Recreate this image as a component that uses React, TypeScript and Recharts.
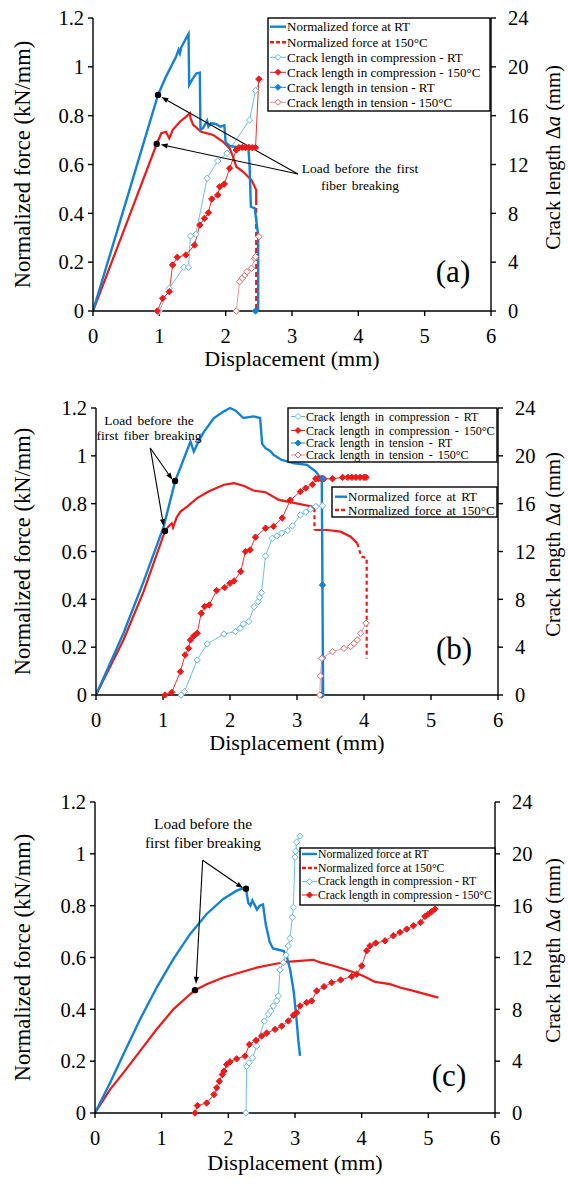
import React from "react";
import { ComposedChart, Line, XAxis, YAxis, ReferenceLine, ReferenceDot, Label } from "recharts";

type Pt = [number, number];

const xTicks = [0, 1, 2, 3, 4, 5, 6];
const forceTicks = [0, 0.2, 0.4, 0.6, 0.8, 1, 1.2];
const crackTicks = [0, 4, 8, 12, 16, 20, 24];

// ---- panel (a) ----
const aForceRT: Pt[] = [
  [0, 0], [0.5, 0.45], [0.98, 0.885], [1.1, 0.96], [1.25, 1.04], [1.29, 1.07], [1.31, 1.055], [1.33, 1.08],
  [1.44, 1.135], [1.45, 0.926], [1.5, 0.95], [1.56, 0.973], [1.61, 0.976], [1.62, 0.741], [1.66, 0.75],
  [1.72, 0.78], [1.74, 0.755], [1.78, 0.77], [1.86, 0.765], [1.92, 0.755], [1.98, 0.76], [2.0, 0.69],
  [2.06, 0.676], [2.16, 0.672], [2.34, 0.676], [2.36, 0.6], [2.38, 0.427], [2.44, 0.42], [2.46, 0.373],
  [2.49, 0.311], [2.52, 0.305], [2.49, 0.3], [2.49, 0],
];
const aForce150: Pt[] = [
  [0, 0], [0.5, 0.355], [0.96, 0.684], [1.03, 0.728], [1.1, 0.734], [1.15, 0.707], [1.2, 0.741],
  [1.31, 0.775], [1.4, 0.795], [1.46, 0.81], [1.47, 0.79], [1.51, 0.762], [1.63, 0.734], [1.81, 0.721],
  [1.96, 0.693], [2.06, 0.666], [2.11, 0.632], [2.16, 0.591], [2.26, 0.571], [2.39, 0.536], [2.46, 0.496],
  [2.46, 0.455],
];
const aForce150Tail: Pt[] = [[2.46, 0.455], [2.46, 0]];
const aCompRT: Pt[] = [
  [1.0, 0], [1.15, 1.86], [1.37, 3.58], [1.44, 3.58], [1.47, 6.14], [1.55, 6.28], [1.72, 10.87],
  [1.88, 12.29], [2.02, 12.92], [2.36, 15.64], [2.45, 18.05], [2.52, 18.92],
];
const aComp150: Pt[] = [
  [0.97, 0], [1.05, 1.04], [1.15, 1.58], [1.2, 3.77], [1.27, 4.4], [1.4, 4.59], [1.53, 5.4], [1.61, 7.04],
  [1.68, 7.59], [1.74, 8.05], [1.79, 9.17], [1.88, 9.5], [1.91, 10.18], [1.98, 10.4], [2.06, 11.69],
  [2.16, 13.19], [2.2, 13.38], [2.25, 13.4], [2.3, 13.38], [2.35, 13.4], [2.4, 13.38], [2.45, 13.38], [2.5, 19.0],
];
const aTensRT: Pt[] = [[2.45, 0]];
const aTens150: Pt[] = [
  [2.16, 0], [2.21, 2.4], [2.25, 2.68], [2.29, 2.95], [2.32, 3.22], [2.39, 3.5], [2.44, 4.31], [2.45, 4.45], [2.5, 6.09],
];
const aMarks: Pt[] = [[0.98, 0.885], [0.96, 0.684]];
const aArrows: Pt[][] = [[[3.09, 0.561], [1.03, 0.876]], [[3.09, 0.561], [1.02, 0.682]]];

// ---- panel (b) ----
const bForceRT: Pt[] = [
  [0, 0], [0.41, 0.258], [0.71, 0.474], [1.01, 0.704], [1.18, 0.893], [1.3, 0.98], [1.41, 1.06], [1.46, 1.018],
  [1.53, 1.06], [1.61, 1.1], [1.76, 1.158], [1.91, 1.186], [2.0, 1.2], [2.08, 1.19], [2.2, 1.158], [2.35, 1.165],
  [2.45, 1.158], [2.48, 1.05], [2.53, 1.032], [2.6, 1.02], [2.65, 1.004], [2.77, 0.983], [2.96, 0.969],
  [3.15, 0.962], [3.28, 0.934], [3.35, 0.907], [3.37, 0.9], [3.38, 0.45], [3.39, 0],
];
const bForce150: Pt[] = [
  [0, 0], [0.41, 0.23], [0.71, 0.432], [1.03, 0.686], [1.08, 0.704], [1.13, 0.718], [1.15, 0.7], [1.2, 0.74],
  [1.26, 0.767], [1.36, 0.788], [1.51, 0.823], [1.68, 0.851], [1.91, 0.879], [2.06, 0.886], [2.21, 0.874],
  [2.35, 0.855], [2.53, 0.848], [2.73, 0.816], [2.97, 0.802], [3.22, 0.788], [3.26, 0.781],
];
const bForce150Drop: Pt[] = [[3.26, 0.781], [3.26, 0.69]];
const bForce150Mid: Pt[] = [[3.26, 0.69], [3.45, 0.69], [3.65, 0.683], [3.8, 0.662], [3.9, 0.634]];
const bForce150Tail: Pt[] = [[3.9, 0.634], [3.96, 0.579], [4.04, 0.572], [4.04, 0.153]];
const bCompRT: Pt[] = [
  [1.27, 0], [1.32, 0.28], [1.51, 2.93], [1.66, 4.27], [1.91, 5.1], [2.08, 5.3], [2.15, 5.58], [2.2, 5.94],
  [2.28, 6.14], [2.36, 7.39], [2.42, 7.81], [2.44, 8.17], [2.47, 8.56], [2.53, 11.63], [2.63, 13.1],
  [2.7, 13.3], [2.77, 13.53], [2.86, 13.75], [2.93, 14.14], [3.05, 15.06], [3.13, 15.3], [3.2, 15.54],
  [3.28, 15.76], [3.38, 15.82],
];
const bComp150: Pt[] = [
  [1.03, 0], [1.13, 0.22], [1.26, 1.95], [1.33, 3.35], [1.38, 3.9], [1.41, 4.6], [1.46, 4.94], [1.51, 5.16],
  [1.57, 6.83], [1.62, 7.39], [1.69, 7.53], [1.8, 8.73], [1.92, 8.98], [2.0, 9.34], [2.06, 9.54], [2.16, 10.32],
  [2.23, 11.99], [2.3, 12.13], [2.38, 13.2], [2.53, 13.95], [2.65, 14.1], [2.78, 14.8], [2.9, 16.3], [3.05, 17.0],
  [3.13, 17.3], [3.23, 17.6], [3.28, 18.08], [3.32, 18.08], [3.36, 18.1], [3.4, 18.08], [3.53, 18.08],
  [3.68, 18.2], [3.76, 18.2], [3.82, 18.2], [3.88, 18.2], [3.94, 18.2], [4.0, 18.2], [4.03, 18.2],
];
const bTensRT: Pt[] = [[3.37, 0], [3.38, 3.1], [3.38, 9.2], [3.38, 18.1]];
const bTens150: Pt[] = [
  [3.34, 0], [3.35, 1.59], [3.37, 3.07], [3.53, 3.63], [3.7, 3.9], [3.8, 4.05], [3.85, 4.32], [3.9, 4.6],
  [3.95, 5.16], [4.03, 6.0],
];
const bMarks: Pt[] = [[1.18, 0.895], [1.03, 0.686]];
const bArrows: Pt[][] = [[[0.81, 1.033], [1.14, 0.9]], [[0.81, 1.033], [1.01, 0.706]]];

// ---- panel (c) ----
const cForceRT: Pt[] = [
  [0, 0], [0.225, 0.116], [0.425, 0.226], [0.675, 0.361], [0.925, 0.484], [1.175, 0.594], [1.425, 0.69],
  [1.675, 0.768], [1.925, 0.826], [2.125, 0.858], [2.2, 0.865], [2.265, 0.865], [2.28, 0.84], [2.3, 0.81],
  [2.33, 0.8], [2.36, 0.82], [2.4, 0.8], [2.43, 0.785], [2.47, 0.8], [2.52, 0.805], [2.56, 0.73], [2.62, 0.66],
  [2.67, 0.635], [2.75, 0.63], [2.83, 0.625], [2.88, 0.6], [2.93, 0.55], [2.98, 0.47], [3.02, 0.37],
  [3.05, 0.28], [3.075, 0.22],
];
const cForce150: Pt[] = [
  [0, 0], [0.225, 0.09], [0.425, 0.155], [0.675, 0.239], [0.925, 0.323], [1.175, 0.4], [1.425, 0.458],
  [1.5, 0.474], [1.675, 0.497], [1.925, 0.523], [2.175, 0.542], [2.425, 0.561], [2.675, 0.574], [2.875, 0.583],
  [3.075, 0.587], [3.275, 0.591], [3.375, 0.581], [3.575, 0.568], [3.825, 0.548], [4.025, 0.529], [4.2, 0.506],
  [4.425, 0.497], [4.575, 0.484], [4.775, 0.471], [5.15, 0.445],
];
const cCompRT: Pt[] = [
  [2.265, 0], [2.275, 3.61], [2.31, 3.87], [2.365, 4.26], [2.425, 5.16], [2.54, 7.1], [2.6, 7.61], [2.635, 7.87],
  [2.675, 8.26], [2.725, 8.65], [2.75, 9.03], [2.775, 11.05], [2.825, 11.61], [2.865, 12.18], [2.9, 12.9],
  [2.925, 13.47], [2.96, 15.1], [2.975, 15.87], [3.0, 19.74], [3.01, 20.2], [3.025, 20.9], [3.075, 21.37],
];
const cComp150: Pt[] = [
  [1.5, 0], [1.535, 0.57], [1.675, 0.77], [1.785, 1.42], [1.825, 1.94], [1.865, 2.45], [1.91, 2.97],
  [1.935, 3.23], [1.975, 3.74], [2.025, 3.95], [2.125, 4.18], [2.25, 4.39], [2.315, 5.29], [2.415, 5.6],
  [2.5, 5.94], [2.575, 6.17], [2.7, 6.45], [2.8, 6.71], [2.9, 7.1], [2.975, 7.54], [3.025, 7.74], [3.075, 8.26],
  [3.175, 8.52], [3.25, 8.65], [3.325, 9.42], [3.435, 9.75], [3.55, 10.06], [3.685, 10.27], [3.85, 10.53],
  [3.925, 10.71], [4.0, 11.35], [4.075, 12.52], [4.125, 12.9], [4.21, 13.11], [4.35, 13.29], [4.475, 13.68],
  [4.575, 13.94], [4.675, 14.19], [4.775, 14.45], [4.885, 14.71], [4.95, 15.17], [5.0, 15.35], [5.05, 15.54],
  [5.1, 15.74],
];
const cMarks: Pt[] = [[2.265, 0.865], [1.5, 0.474]];
const cArrows: Pt[][] = [[[1.615, 0.975], [2.22, 0.868]], [[1.615, 0.975], [1.515, 0.498]]];

const labelRT = "Normalized force at RT";
const label150 = "Normalized force at 150°C";
const labelCompRT = "Crack length in compression - RT";
const labelComp150 = "Crack length in compression - 150°C";
const labelTensRT = "Crack length in tension - RT";
const labelTens150 = "Crack length in tension - 150°C";

const BLUE = "#1482d4";
const RED = "#ee1a1a";
const CYAN = "#5fb6e8";
const PINK = "#f29090";
const PINK_MK = "#ec6464";
const SERIF = "'Liberation Serif', 'Times New Roman', serif";

const axisPen = { stroke: "#000", strokeWidth: 1.4 };
const tickFont = { fill: "#000", fontSize: 20.5, fontFamily: SERIF };
const X_AXIS_H = 70;

const toXY = (pts: Pt[]) => pts.map(([x, y]) => ({ x, y }));
const fmt = (v: number) => String(Math.round(v * 10) / 10);

function diamond(fill: string, stroke: string, s = 3.2) {
  return (p: any) => {
    const { cx, cy, index } = p;
    if (cx == null || cy == null || Number.isNaN(cx) || Number.isNaN(cy)) return <g key={`e${index}`} />;
    return (
      <path
        key={`d${index}`}
        d={`M${cx},${cy - s}L${cx + s},${cy}L${cx},${cy + s}L${cx - s},${cy}Z`}
        fill={fill}
        stroke={stroke}
        strokeWidth={1}
      />
    );
  };
}

const arrowShape = (p: any) => {
  const { x1, y1, x2, y2 } = p;
  const ang = Math.atan2(y2 - y1, x2 - x1);
  const L = 7;
  const W = 2.6;
  const bx = x2 - L * Math.cos(ang);
  const by = y2 - L * Math.sin(ang);
  const px = -Math.sin(ang) * W;
  const py = Math.cos(ang) * W;
  return (
    <g>
      <line x1={x1} y1={y1} x2={bx} y2={by} stroke="#000" strokeWidth={1.1} />
      <path d={`M${x2},${y2}L${bx + px},${by + py}L${bx - px},${by - py}Z`} fill="#000" />
    </g>
  );
};

const leftTitle = (p: any) => {
  const vb = p.viewBox || {};
  const cx = 22;
  const cy = vb.y + vb.height / 2;
  return (
    <text x={cx} y={cy} transform={`rotate(-90 ${cx} ${cy})`} textAnchor="middle" dominantBaseline="central"
      fontFamily={SERIF} fontSize={22.5} fill="#000">
      Normalized force (kN/mm)
    </text>
  );
};

const rightTitle = (p: any) => {
  const vb = p.viewBox || {};
  const cx = 553;
  const cy = vb.y + vb.height / 2 - 7;
  return (
    <text x={cx} y={cy} transform={`rotate(-90 ${cx} ${cy})`} textAnchor="middle" dominantBaseline="central"
      fontFamily={SERIF} fontSize={20.5} fill="#000">
      Crack length Δ<tspan fontStyle="italic">a</tspan> (mm)
    </text>
  );
};

const xTitle = (dy: number) => (p: any) => {
  const vb = p.viewBox || {};
  return (
    <text x={vb.x + vb.width / 2} y={vb.y + dy} textAnchor="middle" fontFamily={SERIF} fontSize={22} fill="#000">
      Displacement (mm)
    </text>
  );
};

type Series = { pts: Pt[]; axis: "left" | "right"; stroke: string; width: number; dash?: string; dot?: any };

const forceRT = (pts: Pt[]): Series => ({ pts, axis: "left", stroke: BLUE, width: 2.4 });
const force150 = (pts: Pt[], dash?: string): Series => ({ pts, axis: "left", stroke: RED, width: 2.2, dash });
const compRT = (pts: Pt[]): Series => ({ pts, axis: "right", stroke: CYAN, width: 0.9, dot: diamond("#fff", CYAN) });
const comp150 = (pts: Pt[]): Series => ({ pts, axis: "right", stroke: RED, width: 0.9, dot: diamond(RED, RED) });
const tensRT = (pts: Pt[]): Series => ({ pts, axis: "right", stroke: BLUE, width: 1, dot: diamond(BLUE, BLUE) });
const tens150 = (pts: Pt[]): Series => ({ pts, axis: "right", stroke: PINK, width: 0.9, dot: diamond("#fff", PINK_MK) });

function Panel(props: {
  top: number;
  height: number;
  margin: { top: number; right: number; bottom: number; left: number };
  series: Series[];
  arrows: Pt[][];
  marks: Pt[];
  topTicks?: boolean;
  titleDy: number;
}) {
  const { top, height, margin, series, arrows, marks, topTicks, titleDy } = props;
  return (
    <div style={{ position: "absolute", left: 0, top }}>
      <ComposedChart width={568} height={height} margin={margin}>
        <XAxis xAxisId="top" orientation="top" type="number" domain={[0, 6]} ticks={xTicks} height={0}
          tick={false} tickSize={5} tickLine={topTicks ? axisPen : false} axisLine={axisPen} />
        <XAxis type="number" dataKey="x" domain={[0, 6]} ticks={xTicks} interval={0} height={X_AXIS_H}
          tickSize={5} tickMargin={12} tickLine={axisPen} axisLine={axisPen} tick={tickFont} allowDataOverflow>
          <Label content={xTitle(titleDy)} />
        </XAxis>
        <YAxis yAxisId="left" type="number" domain={[0, 1.2]} ticks={forceTicks} interval={0} width={80}
          tickSize={5} tickMargin={4} tickLine={axisPen} axisLine={axisPen} tick={tickFont} tickFormatter={fmt}>
          <Label content={leftTitle} />
        </YAxis>
        <YAxis yAxisId="right" orientation="right" type="number" domain={[0, 24]} ticks={crackTicks} interval={0}
          width={70} tickSize={5} tickMargin={12} tickLine={axisPen} axisLine={axisPen} tick={tickFont}>
          <Label content={rightTitle} />
        </YAxis>
        {series.map((s, i) => (
          <Line
            key={`s${i}`}
            data={toXY(s.pts)}
            dataKey="y"
            yAxisId={s.axis}
            type="linear"
            stroke={s.stroke}
            strokeWidth={s.width}
            strokeDasharray={s.dash}
            dot={s.dot ?? false}
            activeDot={false}
            legendType="none"
            isAnimationActive={false}
          />
        ))}
        {arrows.map((a, i) => (
          <ReferenceLine key={`a${i}`} yAxisId="left" ifOverflow="visible"
            segment={[{ x: a[0][0], y: a[0][1] }, { x: a[1][0], y: a[1][1] }]} shape={arrowShape} />
        ))}
        {marks.map((m, i) => (
          <ReferenceDot key={`m${i}`} yAxisId="left" x={m[0]} y={m[1]} r={3.2} fill="#000" stroke="none" />
        ))}
      </ComposedChart>
    </div>
  );
}

type LegendItem = { label: string; kind: "rt" | "150" | "compRT" | "comp150" | "tensRT" | "tens150" };

function LegendBox(props: {
  x: number; y: number; w: number; h: number; rows: number[]; sx: number; sw: number;
  fontSize: number; wordSpacing?: number; items: LegendItem[];
}) {
  const { x, y, w, h, rows, sx, sw, fontSize, wordSpacing, items } = props;
  return (
    <g>
      <rect x={x} y={y} width={w} height={h} fill="#fff" stroke="#000" strokeWidth={1.4} />
      {items.map((it, i) => {
        const cy = rows[i];
        const mid = sx + sw / 2;
        let sample: React.ReactNode = null;
        if (it.kind === "rt") sample = <line x1={sx} x2={sx + sw} y1={cy} y2={cy} stroke={BLUE} strokeWidth={2.4} />;
        else if (it.kind === "150")
          sample = <line x1={sx} x2={sx + sw} y1={cy} y2={cy} stroke={RED} strokeWidth={2.4} strokeDasharray="4 2" />;
        else {
          const c = it.kind === "compRT" ? CYAN : it.kind === "comp150" ? RED : it.kind === "tensRT" ? BLUE : PINK;
          const open = it.kind === "compRT" || it.kind === "tens150";
          const mk = it.kind === "tens150" ? PINK_MK : c;
          const s = 3;
          sample = (
            <g>
              <line x1={sx} x2={sx + sw} y1={cy} y2={cy} stroke={c} strokeWidth={1} />
              <path d={`M${mid},${cy - s}L${mid + s},${cy}L${mid},${cy + s}L${mid - s},${cy}Z`}
                fill={open ? "#fff" : mk} stroke={mk} strokeWidth={1} />
            </g>
          );
        }
        return (
          <g key={i}>
            {sample}
            <text x={sx + sw + 1} y={cy} dominantBaseline="central" fontFamily={SERIF} fontSize={fontSize}
              style={{ wordSpacing }} fill="#000">
              {it.label}
            </text>
          </g>
        );
      })}
    </g>
  );
}

function Note(props: { cx: number; ys: number[]; lines: string[]; fontSize: number; wordSpacing?: number }) {
  return (
    <g>
      {props.lines.map((t, i) => (
        <text key={i} x={props.cx} y={props.ys[i]} textAnchor="middle" dominantBaseline="central"
          fontFamily={SERIF} fontSize={props.fontSize} style={{ wordSpacing: props.wordSpacing }} fill="#000">
          {t}
        </text>
      ))}
    </g>
  );
}

export default function App() {
  return (
    <div style={{ position: "absolute", left: 0, top: 0, width: 568, height: 1184, background: "#fff" }}>
      <Panel
        top={0}
        height={311 + X_AXIS_H}
        margin={{ top: 18, right: 7, bottom: 0, left: 13 }}
        titleDy={55}
        series={[
          compRT(aCompRT), comp150(aComp150), tensRT(aTensRT), tens150(aTens150),
          force150(aForce150), force150(aForce150Tail, "5 3"), forceRT(aForceRT),
        ]}
        arrows={aArrows}
        marks={aMarks}
      />
      <Panel
        top={390}
        height={305 + X_AXIS_H}
        margin={{ top: 18, right: 0, bottom: 0, left: 16 }}
        titleDy={55}
        series={[
          compRT(bCompRT), comp150(bComp150), tensRT(bTensRT), tens150(bTens150),
          force150(bForce150), force150(bForce150Drop, "4 3"), force150(bForce150Mid), force150(bForce150Tail, "4 3"),
          forceRT(bForceRT),
        ]}
        arrows={bArrows}
        marks={bMarks}
      />
      <Panel
        top={780}
        height={333 + X_AXIS_H}
        margin={{ top: 22, right: 3, bottom: 0, left: 15 }}
        titleDy={57}
        topTicks
        series={[compRT(cCompRT), comp150(cComp150), force150(cForce150), forceRT(cForceRT)]}
        arrows={cArrows}
        marks={cMarks}
      />
      <svg width={568} height={1184} style={{ position: "absolute", left: 0, top: 0, pointerEvents: "none" }}>
        <LegendBox x={268} y={18} w={222} h={93} rows={[26.7, 42.3, 57.3, 72.3, 87.3, 102.3]} sx={270} sw={16}
          fontSize={13}
          items={[
            { label: labelRT, kind: "rt" }, { label: label150, kind: "150" },
            { label: labelCompRT, kind: "compRT" }, { label: labelComp150, kind: "comp150" },
            { label: labelTensRT, kind: "tensRT" }, { label: labelTens150, kind: "tens150" },
          ]} />
        <LegendBox x={288} y={408} w={209} h={54} rows={[416.5, 430.5, 443, 455]} sx={291} sw={14}
          fontSize={12} wordSpacing={2}
          items={[
            { label: labelCompRT, kind: "compRT" }, { label: labelComp150, kind: "comp150" },
            { label: labelTensRT, kind: "tensRT" }, { label: labelTens150, kind: "tens150" },
          ]} />
        <LegendBox x={332} y={487} w={165} h={30} rows={[496.7, 510]} sx={335} sw={12} fontSize={13}
          wordSpacing={2}
          items={[{ label: labelRT, kind: "rt" }, { label: label150, kind: "150" }]} />
        <LegendBox x={300} y={848} w={195} h={57} rows={[854, 868, 881.7, 895]} sx={302} sw={15} fontSize={11.7}
          items={[
            { label: labelRT, kind: "rt" }, { label: label150, kind: "150" },
            { label: labelCompRT, kind: "compRT" }, { label: labelComp150, kind: "comp150" },
          ]} />
        <Note cx={360} ys={[168, 185]} lines={["Load before the first", "fiber breaking"]} fontSize={13.5} wordSpacing={2} />
        <Note cx={149} ys={[420, 435]} lines={["Load before the", "first fiber breaking"]} fontSize={13.5} wordSpacing={2} />
        <Note cx={203} ys={[823, 842]} lines={["Load before the", "first fiber breaking"]} fontSize={15.5} />
        <text x={453} y={271} textAnchor="middle" dominantBaseline="central" fontFamily={SERIF} fontSize={31}>(a)</text>
        <text x={454} y={648} textAnchor="middle" dominantBaseline="central" fontFamily={SERIF} fontSize={31}>(b)</text>
        <text x={449} y={1075} textAnchor="middle" dominantBaseline="central" fontFamily={SERIF} fontSize={31}>(c)</text>
      </svg>
    </div>
  );
}
